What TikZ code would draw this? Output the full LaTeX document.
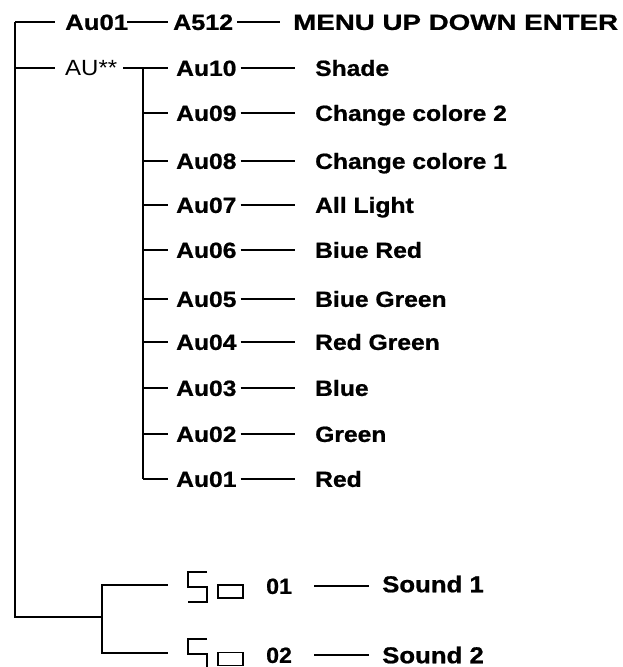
\documentclass[tikz,border=0pt]{standalone}
\usepackage{fontspec}
\setmainfont{Liberation Sans}[BoldFeatures={FakeBold=0.8}]
\newcommand{\hs}[2]{\scalebox{#1}[1]{#2}}
\begin{document}
\begin{tikzpicture}[x=1pt,y=-1pt,
  ln/.style={line width=1.8pt, line cap=butt},
  txt/.style={inner sep=0pt, anchor=west, text height=15.8pt, text depth=0pt, font=\fontsize{22}{26}\selectfont\bfseries},
  txtr/.style={txt, font=\fontsize{22}{26}\selectfont},
  snd/.style={txt, text height=16.5pt, font=\fontsize{23}{27}\selectfont\bfseries},
  segbox/.style={inner sep=0pt, minimum width=19pt, minimum height=30pt},
  segline/.style={line width=2.2pt, line cap=butt, line join=miter},
  boxd/.style={draw, line width=1.7pt, inner sep=0pt, minimum width=25pt, minimum height=13pt}
]
\useasboundingbox (0,0) rectangle (623,667);
\fill[white] (0,0) rectangle (623,667);
\clip (0,0) rectangle (623,667);

% top level
\coordinate (t1) at (15,22);
\coordinate (t2) at (15,68);
\coordinate (tb) at (15,617);
\coordinate (sj) at (102,617);
\draw[ln] (t1) -- (tb) -- (sj);

% row 1
\node[txt] (au01) at (65,22) {\hs{1.17}{Au01}};
\node[txt] (a512) at (173,22) {\hs{1.14}{A512}};
\node[txt] (menu) at (293,22) {\hs{1.26}{MENU UP DOWN ENTER}};
\draw[ln] (t1) -- ([xshift=-10pt]au01.west);
\draw[ln] ([xshift=-1pt]au01.east) -- ([xshift=-5pt]a512.west);
\draw[ln] ([xshift=4pt]a512.east) -- ([xshift=-13pt]menu.west);

% row 2
\node[txtr] (aus) at (65,68) {\hs{1.09}{AU**}};
\draw[ln] (t2) -- ([xshift=-10pt]aus.west);

\foreach \y/\code/\lab [count=\i] in {68/Au10/Shade, 113/Au09/Change colore 2, 161/Au08/Change colore 1, 205/Au07/All Light, 250/Au06/Biue Red, 299/Au05/Biue Green, 342/Au04/Red Green, 388/Au03/Blue, 434/Au02/Green, 479/Au01/Red} {
  \coordinate (v\i) at (143,\y);
  \node[txt] (a\i) at (176,\y) {\hs{1.12}{\code}};
  \node[txt] (l\i) at (315,\y) {\hs{1.12}{\lab}};
  \draw[ln] ([xshift=4pt]a\i.east) -- ([xshift=-20pt]l\i.west);
  \draw[ln] (v\i) -- ([xshift=-8pt]a\i.west);
}
\draw[ln] ([xshift=6pt]aus.east) -- ([xshift=-8pt]a1.west);
\draw[ln] (v1) -- (v10);

% sound branch
\coordinate (s1) at (102,585);
\coordinate (s2) at (102,653);

\node[segbox] (g1) at (197.5,587) {};
\draw[segline] (g1.north east) -- (g1.north west) -- (g1.west) -- (g1.east) -- (g1.south east) -- (g1.south west);
\node[boxd] (b1) at (230.5,591.5) {};
\node[txt] (n1) at (266,586) {\hs{1.05}{01}};
\node[snd] (S1) at (382,584) {\hs{1.12}{Sound 1}};
\draw[ln] ([xshift=22pt]n1.east) -- ([xshift=-13pt]S1.west |- n1.east);

\node[segbox] (g2) at (197.5,654) {};
\draw[segline] (g2.north east) -- (g2.north west) -- (g2.west) -- (g2.east) -- (g2.south east) -- (g2.south west);
\node[boxd] (b2) at (230.5,659) {};
\node[txt] (n2) at (266,655) {\hs{1.05}{02}};
\node[snd] (S2) at (382,655) {\hs{1.12}{Sound 2}};
\draw[ln] ([xshift=22pt]n2.east) -- ([xshift=-13pt]S2.west |- n2.east);

\draw[ln] ([xshift=-20pt]g1.west |- s1) -- (s1) -- (s2) -- ([xshift=-20pt]g2.west |- s2);
\end{tikzpicture}
\end{document}
